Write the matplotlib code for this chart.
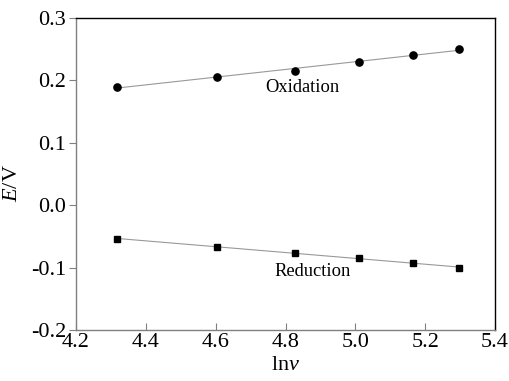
import numpy as np
import matplotlib.pyplot as plt

plt.rcParams['font.family'] = ['Liberation Serif', 'DejaVu Serif']
plt.rcParams['mathtext.fontset'] = 'custom'
plt.rcParams['mathtext.it'] = 'Liberation Serif:italic'
plt.rcParams['mathtext.rm'] = 'Liberation Serif'

# scan rates 75..200 mV/s -> ln v
lnv = [4.317, 4.605, 4.828, 5.011, 5.165, 5.298]
E_ox = [0.190, 0.205, 0.2155, 0.230, 0.2405, 0.2505]
E_red = [-0.0545, -0.0665, -0.076, -0.084, -0.093, -0.101]

fig = plt.figure(figsize=(5.1, 3.81), dpi=100)
ax = fig.add_axes([76/510, 1-330/381, (495-76)/510, (330-18)/381])

x = np.array(lnv)
for y, m, ms in [(E_ox, 'o', 5.2), (E_red, 's', 4.6)]:
    p = np.polyfit(x, y, 1)
    xx = np.array([x[0], x[-1]])
    ax.plot(xx, np.polyval(p, xx), color='#999999', lw=0.8, zorder=1)
    ax.plot(x, y, m, color='black', ms=ms, zorder=2)

ax.text(4.741, 0.188, 'Oxidation', fontsize=13.3, va='center', ha='left')
ax.text(4.767, -0.1066, 'Reduction', fontsize=13.3, va='center', ha='left')

ax.set_xlim(4.2, 5.4)
ax.set_ylim(-0.2, 0.3)
ax.set_xticks(np.arange(4.2, 5.41, 0.2))
ax.set_xticklabels(['4.2', '4.4', '4.6', '4.8', '5.0', '5.2', '5.4'])
ax.set_yticks(np.arange(-0.2, 0.31, 0.1))
ax.set_yticklabels(['-0.2', '-0.1', '0.0', '0.1', '0.2', '0.3'])

ax.tick_params(axis='x', direction='in', length=5, color='#808080', labelsize=16, pad=2)
ax.tick_params(axis='y', direction='out', length=5, color='#808080', labelsize=16, pad=2)
ax.spines['left'].set_color('#808080')
ax.spines['bottom'].set_color('#808080')
ax.spines['top'].set_color('black')
ax.spines['right'].set_color('black')
for s in ax.spines.values():
    s.set_linewidth(1.0)

ax.set_xlabel(r'ln$\mathit{v}$', fontsize=16, labelpad=3)
ax.set_ylabel(r'$\mathit{E}$/V', fontsize=16)
ax.yaxis.set_label_coords(-0.13, 0.47)

fig.savefig('out.png', dpi=100)
